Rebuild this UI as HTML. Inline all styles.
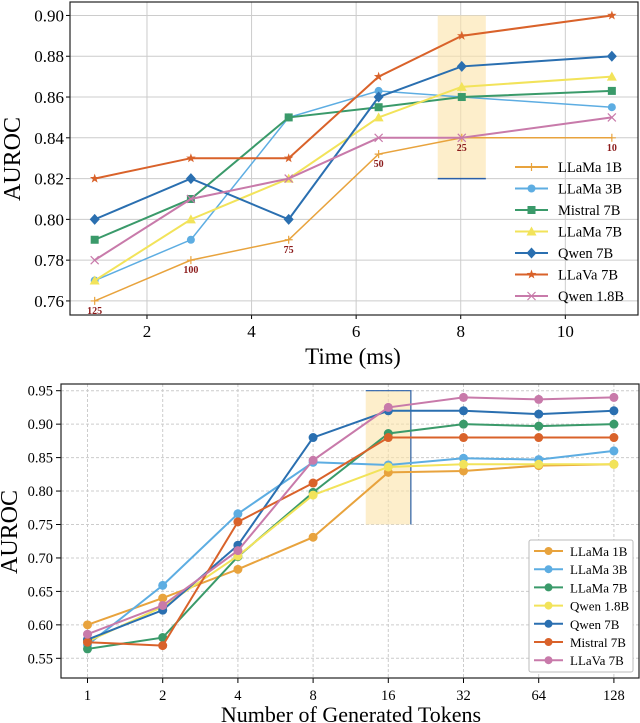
<!DOCTYPE html>
<html><head><meta charset="utf-8"><style>
html,body{margin:0;padding:0;background:#fff}
svg{display:block;font-family:"Liberation Serif","DejaVu Serif",serif}
</style></head><body>
<svg id="c" width="640" height="723" viewBox="0 0 640 723" xmlns="http://www.w3.org/2000/svg"></svg>
<script>
// ---- Top chart data ----
const topNames = ["LLaMa 1B","LLaMa 3B","Mistral 7B","LLaMa 7B","Qwen 7B","LLaVa 7B","Qwen 1.8B"];
const topTimes = [1.0,2.84,4.71,6.43,8.02,10.89];
const topLLaMa1B = [0.76,0.78,0.79,0.832,0.84,0.84];
const topLLaMa3B = [0.77,0.79,0.85,0.863,0.86,0.855];
const topMistral7B = [0.79,0.81,0.85,0.855,0.86,0.863];
const topLLaMa7B = [0.77,0.80,0.82,0.85,0.865,0.87];
const topQwen7B = [0.80,0.82,0.80,0.86,0.875,0.88];
const topLLaVa7B = [0.82,0.83,0.83,0.87,0.89,0.90];
const topQwen18B = [0.78,0.81,0.82,0.84,0.84,0.85];
const topTokenLabels = ["125","100","75","50","25","10"];
const topXTicks = [2,4,6,8,10];
const topYTicks = [0.76,0.78,0.80,0.82,0.84,0.86,0.88,0.90];
// ---- Bottom chart data ----
const botNames = ["LLaMa 1B","LLaMa 3B","LLaMa 7B","Qwen 1.8B","Qwen 7B","Mistral 7B","LLaVa 7B"];
const botCats = ["1","2","4","8","16","32","64","128"];
const botLLaMa1B = [0.60,0.64,0.683,0.731,0.828,0.830,0.838,0.84];
const botLLaMa3B = [0.570,0.659,0.766,0.843,0.839,0.849,0.847,0.86];
const botLLaMa7B = [0.564,0.581,0.702,0.798,0.886,0.90,0.897,0.90];
const botQwen18B = [0.575,0.627,0.703,0.794,0.836,0.84,0.84,0.84];
const botQwen7B = [0.578,0.622,0.719,0.88,0.92,0.92,0.915,0.92];
const botMistral7B = [0.574,0.569,0.754,0.812,0.88,0.88,0.88,0.88];
const botLLaVa7B = [0.586,0.629,0.711,0.846,0.925,0.94,0.937,0.94];
const botYTicks = [0.55,0.60,0.65,0.70,0.75,0.80,0.85,0.90,0.95];

const S="http://www.w3.org/2000/svg", svg=document.getElementById('c');
function el(t,a,p){const e=document.createElementNS(S,t);for(const k in a)e.setAttribute(k,a[k]);(p||svg).appendChild(e);return e;}
function txt(s,a,p){const e=el('text',a,p);e.textContent=s;return e;}

// Top axes
const tX=v=>70+(v-0.528)*(638-70)/(11.39-0.528);
const tY=v=>315-(v-0.7531)*(315-2)/(0.9066-0.7531);
const gTop=el('g',{});  
topYTicks.forEach(v=>{el('line',{x1:70,x2:638,y1:tY(v),y2:tY(v),stroke:'#ccc','stroke-width':1},gTop);
 el('line',{x1:66,x2:70,y1:tY(v),y2:tY(v),stroke:'#000'},gTop);
 const t=txt(v.toFixed(2),{x:64,y:tY(v)+6,'text-anchor':'end','font-size':17},gTop);
  });
topXTicks.forEach(v=>{el('line',{x1:tX(v),x2:tX(v),y1:2,y2:315,stroke:'#ccc'},gTop);
 el('line',{x1:tX(v),x2:tX(v),y1:315,y2:319,stroke:'#000'},gTop);
 const t=txt(String(v),{x:tX(v),y:337,'text-anchor':'middle','font-size':17},gTop);
  });
const hl=el('rect',{x:tX(7.56),y:tY(0.90),width:tX(8.48)-tX(7.56),height:tY(0.82)-tY(0.90),fill:'#fbe3a8','fill-opacity':0.6},gTop);
 
el('line',{x1:tX(7.56),x2:tX(8.48),y1:tY(0.82),y2:tY(0.82),stroke:'#2a5fa8','stroke-width':1.5},gTop);
el('rect',{x:70,y:2,width:568,height:313,fill:'none',stroke:'#222','stroke-width':1.2},gTop);

function marker(kind,x,y,c,g,sz){
 sz=sz||4;
 if(kind==='plus'){el('path',{d:`M${x-4} ${y}H${x+4}M${x} ${y-4}V${y+4}`,stroke:c,'stroke-width':1.2},g);}
 else if(kind==='circle'){el('circle',{cx:x,cy:y,r:sz,fill:c},g);}
 else if(kind==='square'){el('rect',{x:x-4,y:y-4,width:8,height:8,fill:c},g);}
 else if(kind==='tri'){el('path',{d:`M${x} ${y-5}L${x+5} ${y+4}L${x-5} ${y+4}Z`,fill:c},g);}
 else if(kind==='diamond'){el('path',{d:`M${x} ${y-5.5}L${x+5} ${y}L${x} ${y+5.5}L${x-5} ${y}Z`,fill:c},g);}
 else if(kind==='star'){let d='';for(let i=0;i<10;i++){const r=i%2?2:5,a=-Math.PI/2+i*Math.PI/5;d+=(i?'L':'M')+(x+r*Math.cos(a)).toFixed(1)+' '+(y+r*Math.sin(a)).toFixed(1);}el('path',{d:d+'Z',fill:c},g);}
 else if(kind==='x'){el('path',{d:`M${x-4} ${y-4}L${x+4} ${y+4}M${x+4} ${y-4}L${x-4} ${y+4}`,stroke:c,'stroke-width':1.2},g);}
}
const topSeries=[[topLLaMa1B,'#e8a33d','plus',1.5],[topLLaMa3B,'#5dade2','circle',1.5],[topMistral7B,'#3a9a6a','square',2],[topLLaMa7B,'#f2e35a','tri',2],[topQwen7B,'#2a6fb0','diamond',2],[topLLaVa7B,'#d9622a','star',2],[topQwen18B,'#c87aaa','x',2]];
topSeries.forEach((s,i)=>{const g=el('g',{},gTop);
  
 el('polyline',{points:s[0].map((v,j)=>tX(topTimes[j])+','+tY(v)).join(' '),fill:'none',stroke:s[1],'stroke-width':s[3]},g);
 s[0].forEach((v,j)=>marker(s[2],tX(topTimes[j]),tY(v),s[1],g));});
topLLaMa1B.forEach((v,j)=>{const t=txt(topTokenLabels[j],{x:tX(topTimes[j]),y:tY(v)+13,'text-anchor':'middle','font-size':10,'font-weight':'bold',fill:'#8b1a1a'},gTop);
  });
topNames.forEach((n,i)=>{const y=167+i*21.5,s=topSeries[i];const g=el('g',{},gTop);
  
 el('line',{x1:515,x2:548,y1:y,y2:y,stroke:s[1],'stroke-width':2},g);marker(s[2],531.5,y,s[1],g);
 txt(n,{x:558,y:y+5,'font-size':14.5},g);});
let t1=txt('AUROC',{x:0,y:0,transform:'translate(20,159) rotate(-90)','text-anchor':'middle','font-size':24},gTop);
 
t1=txt('Time (ms)',{x:353,y:364,'text-anchor':'middle','font-size':23},gTop);
 

// Bottom axes
const bX=i=>87.5+i*75.2;
const bY=v=>658.3-(v-0.55)*669;
const gB=el('g',{});  
botYTicks.forEach(v=>{el('line',{x1:61,x2:639,y1:bY(v),y2:bY(v),stroke:'#ccc','stroke-dasharray':'3,2'},gB);
 el('line',{x1:56,x2:61,y1:bY(v),y2:bY(v),stroke:'#000'},gB);
 const t=txt(v.toFixed(2),{x:53,y:bY(v)+5,'text-anchor':'end','font-size':14.5},gB);
  });
botCats.forEach((c,i)=>{el('line',{x1:bX(i),x2:bX(i),y1:384,y2:678,stroke:'#ccc','stroke-dasharray':'3,2'},gB);
 el('line',{x1:bX(i),x2:bX(i),y1:678,y2:683,stroke:'#000'},gB);
 const t=txt(c,{x:bX(i),y:700,'text-anchor':'middle','font-size':14.5},gB);
  });
const x0=bX(3.7),x1=bX(4.3);
const hl2=el('rect',{x:x0,y:bY(0.95),width:x1-x0,height:bY(0.75)-bY(0.95),fill:'#fbe3a8','fill-opacity':0.6},gB);
 
el('path',{d:`M${x0} ${bY(0.95)}H${x1}V${bY(0.75)}`,fill:'none',stroke:'#2a5fa8','stroke-width':1.2},gB);
el('rect',{x:61,y:384,width:578,height:294,fill:'none',stroke:'#222','stroke-width':1.2},gB);
const botSeries=[[botLLaMa1B,'#e8a33d'],[botLLaMa3B,'#5dade2'],[botLLaMa7B,'#3a9a6a'],[botQwen18B,'#f2e35a'],[botQwen7B,'#2a6fb0'],[botMistral7B,'#d9622a'],[botLLaVa7B,'#c87aaa']];
botSeries.forEach((s,i)=>{const g=el('g',{},gB);
  
 el('polyline',{points:s[0].map((v,j)=>bX(j)+','+bY(v)).join(' '),fill:'none',stroke:s[1],'stroke-width':2},g);
 s[0].forEach((v,j)=>marker('circle',bX(j),bY(v),s[1],g,4.5));});
const lg=el('rect',{x:529,y:540,width:104,height:132,fill:'#fff',stroke:'#bbb',rx:2},gB);
 
botNames.forEach((n,i)=>{const y=551+i*18.2,s=botSeries[i];const g=el('g',{},gB);
  
 el('line',{x1:534,x2:563,y1:y,y2:y,stroke:s[1],'stroke-width':2},g);marker('circle',548.5,y,s[1],g,4);
 txt(n,{x:570,y:y+5,'font-size':13},g);});
t1=txt('AUROC',{x:0,y:0,transform:'translate(17,532) rotate(-90)','text-anchor':'middle','font-size':24},gB);
 
t1=txt('Number of Generated Tokens',{x:351,y:722,'text-anchor':'middle','font-size':22},gB);
 
</script>
</body></html>
